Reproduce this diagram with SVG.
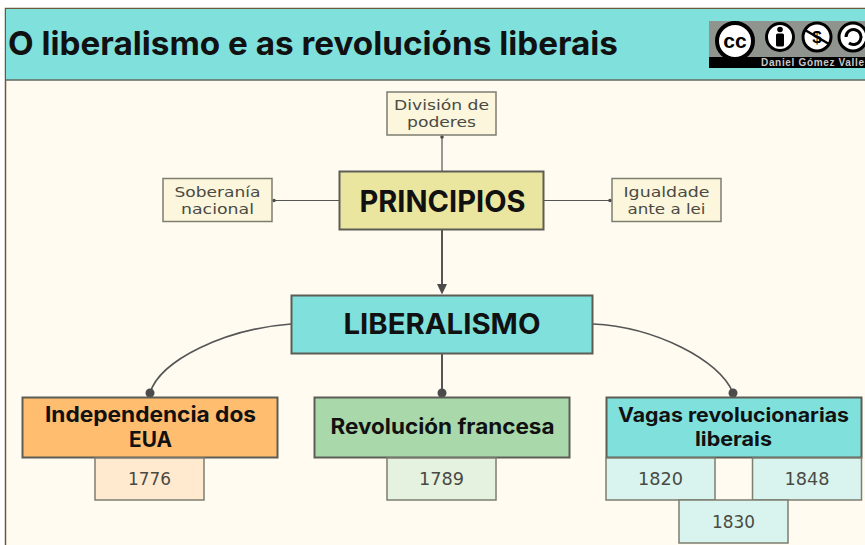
<svg xmlns="http://www.w3.org/2000/svg" width="865" height="545" viewBox="0 0 865 545">
<style>
.h{font-family:"Inter","Liberation Sans",sans-serif;font-weight:700;fill:#111;text-anchor:middle}
.b{font-family:"DejaVu Sans","Liberation Sans",sans-serif;font-size:14px;fill:#4a4a44;text-anchor:middle}
.n{font-family:"DejaVu Sans","Liberation Sans",sans-serif;font-size:17px;fill:#4a4a44;text-anchor:middle}
.box{stroke:#7d7d70;stroke-width:1.500}
.main{stroke:#5c5d55;stroke-width:2}
.c{fill:none;stroke:#555;stroke-linecap:round}
.d{fill:#4b4b4b}
</style>
<rect width="865" height="545" fill="#fff"/>
<rect x="5.500" y="8.500" width="870" height="550" fill="#fffbf1" stroke="#6b5a3a" stroke-width="1.500"/>
<rect x="6" y="9" width="859" height="71" fill="#80e0db"/>
<line x1="6" y1="80" x2="865" y2="80" stroke="#5f6a62" stroke-width="1.500"/>
<text x="8" y="55" font-family="Inter,'Liberation Sans',sans-serif" font-weight="700" font-size="33" fill="#111" textLength="610" lengthAdjust="spacingAndGlyphs">O liberalismo e as revolucións liberais</text>
<g id="cc-logo">
<rect x="709" y="21" width="156" height="47" fill="#8f948f"/>
<rect x="709" y="57" width="156" height="11" fill="#000"/>
<circle cx="735" cy="41" r="18" fill="#fff" stroke="#000" stroke-width="4"/>
<text x="735" y="47.500" font-family="'Liberation Sans',sans-serif" font-weight="700" font-size="21" text-anchor="middle" fill="#000">cc</text>
<circle cx="780" cy="37" r="13.500" fill="#fff" stroke="#000" stroke-width="3"/>
<circle cx="780" cy="29.500" r="2.800" fill="#000"/><rect x="776" y="33.500" width="8" height="13" rx="1.500" fill="#000"/>
<circle cx="817" cy="37" r="14" fill="#fff" stroke="#000" stroke-width="3"/>
<text x="817" y="43" font-family="'Liberation Sans',sans-serif" font-weight="700" font-size="17" text-anchor="middle" fill="#000">$</text>
<line x1="805" y1="30" x2="829" y2="44" stroke="#000" stroke-width="2.500"/>
<circle cx="853" cy="37" r="14" fill="#fff" stroke="#000" stroke-width="3"/>
<path d="M846 37a7.500 7.500 0 1 1 3 6" fill="none" stroke="#000" stroke-width="3"/>
<text x="761" y="66" font-family="'Liberation Sans',sans-serif" font-weight="700" font-size="10" fill="#c8c8c8" textLength="103" lengthAdjust="spacing">Daniel Gómez Valle</text>
</g>
<g id="connectors">
<path class="c" stroke-width="1.200" d="M442 171V136"/><circle class="d" cx="442" cy="137" r="1.800"/>
<path class="c" stroke-width="1.200" d="M339 200.500H273"/><circle class="d" cx="274" cy="200.500" r="1.800"/>
<path class="c" stroke-width="1.200" d="M544 200.500H611"/><circle class="d" cx="610" cy="200.500" r="1.800"/>
<path class="c" stroke-width="2" d="M442 230V286"/><path d="M437 284L442 294.500L447 284Z" fill="#4b4b4b"/>
<path class="c" stroke-width="1.600" d="M291 324C225 329 160 360 150 393"/><circle class="d" cx="150" cy="393" r="4.500"/>
<path class="c" stroke-width="2" d="M442 353V393"/><circle class="d" cx="442" cy="393" r="4.500"/>
<path class="c" stroke-width="1.600" d="M593 324C655 327 720 360 733 393"/><circle class="d" cx="733" cy="393" r="4.500"/>
</g>
<g id="division"><rect class="box" x="387" y="92" width="109" height="43" fill="#fbf6dc"/><text class="b" x="441.500" y="110" textLength="95" lengthAdjust="spacingAndGlyphs">División de</text><text class="b" x="441.500" y="127" textLength="69" lengthAdjust="spacingAndGlyphs">poderes</text></g>
<g id="soberania"><rect class="box" x="163" y="178.500" width="109" height="43" fill="#fbf6dc"/><text class="b" x="217.500" y="197" textLength="86" lengthAdjust="spacingAndGlyphs">Soberanía</text><text class="b" x="217.500" y="214" textLength="73" lengthAdjust="spacingAndGlyphs">nacional</text></g>
<g id="igualdade"><rect class="box" x="612" y="178.500" width="109" height="43" fill="#fbf6dc"/><text class="b" x="666.500" y="197" textLength="86" lengthAdjust="spacingAndGlyphs">Igualdade</text><text class="b" x="666.500" y="214" textLength="78" lengthAdjust="spacingAndGlyphs">ante a lei</text></g>
<g id="principios"><rect class="main" x="339.500" y="171.500" width="204" height="58" fill="#ebe69f"/><text class="h" x="442.500" y="211.500" font-size="30" textLength="166" lengthAdjust="spacingAndGlyphs">PRINCIPIOS</text></g>
<g id="liberalismo"><rect class="main" x="291.500" y="295.500" width="301" height="58" fill="#80e0db"/><text class="h" x="442" y="334" font-size="28" textLength="197" lengthAdjust="spacingAndGlyphs">LIBERALISMO</text></g>
<g id="independencia"><rect class="main" x="22.500" y="397.500" width="255" height="60" fill="#ffbd70"/><text class="h" x="150.500" y="422" font-size="21" textLength="211" lengthAdjust="spacingAndGlyphs">Independencia dos</text><text class="h" x="150.500" y="447" font-size="21" textLength="43" lengthAdjust="spacingAndGlyphs">EUA</text></g>
<g id="francesa"><rect class="main" x="314.500" y="397.500" width="255" height="60" fill="#a9d9ab"/><text class="h" x="442.500" y="434" font-size="21" textLength="224" lengthAdjust="spacingAndGlyphs">Revolución francesa</text></g>
<g id="vagas"><rect class="main" x="606.500" y="397.500" width="255" height="60" fill="#80e0db"/><text class="h" x="733.500" y="422" font-size="20" textLength="231" lengthAdjust="spacingAndGlyphs">Vagas revolucionarias</text><text class="h" x="733.500" y="446" font-size="20" textLength="77" lengthAdjust="spacingAndGlyphs">liberais</text></g>
<g id="y1776"><rect class="box" x="95" y="458" width="109" height="42" fill="#ffe9cf"/><text class="n" x="149.500" y="485" textLength="43" lengthAdjust="spacingAndGlyphs">1776</text></g>
<g id="y1789"><rect class="box" x="387" y="458" width="109" height="42" fill="#e5f2df"/><text class="n" x="441.500" y="485" textLength="45" lengthAdjust="spacingAndGlyphs">1789</text></g>
<g id="y1820"><rect class="box" x="606" y="458" width="109" height="42" fill="#d9f4ef"/><text class="n" x="660.500" y="485" textLength="45" lengthAdjust="spacingAndGlyphs">1820</text></g>
<g id="y1848"><rect class="box" x="752.500" y="458" width="109" height="42" fill="#d9f4ef"/><text class="n" x="807" y="485" textLength="45" lengthAdjust="spacingAndGlyphs">1848</text></g>
<g id="y1830"><rect class="box" x="679" y="500" width="109" height="43" fill="#d9f4ef"/><text class="n" x="733.500" y="528" textLength="43" lengthAdjust="spacingAndGlyphs">1830</text></g>
</svg>
